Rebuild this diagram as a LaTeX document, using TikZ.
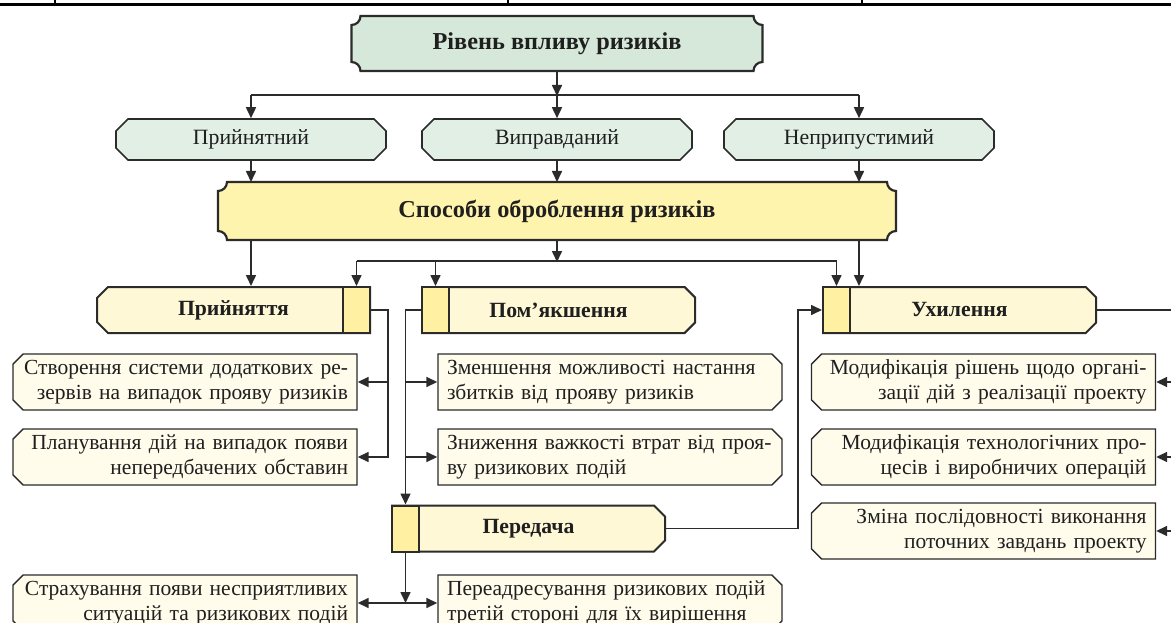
\documentclass[tikz,border=0pt]{standalone}
\usepackage{fontspec}
\setmainfont{Liberation Serif}
\usepackage{tikz}
\usetikzlibrary{positioning, shapes.misc, arrows.meta, backgrounds}

\definecolor{edge}{HTML}{2B2B2B}
\definecolor{ink}{HTML}{1F1F1F}
\definecolor{titlefill}{HTML}{D5E8D9}
\definecolor{lvfill}{HTML}{E1EFE5}
\definecolor{sposfill}{HTML}{FFF4AE}
\definecolor{methfill}{HTML}{FFF8D6}
\definecolor{sqfill}{HTML}{FFF0A2}
\definecolor{leaffill}{HTML}{FFFCEC}

\newcommand{\scrollframe}[2]{%
  \draw[draw=edge, line width=2.2pt, fill=#2]
    ([xshift=9pt]#1.north west) -- ([xshift=-9pt]#1.north east)
    arc[start angle=180, end angle=270, radius=9pt]
    -- ([yshift=9pt]#1.south east)
    arc[start angle=90, end angle=180, radius=9pt]
    -- ([xshift=9pt]#1.south west)
    arc[start angle=0, end angle=90, radius=9pt]
    -- ([yshift=-9pt]#1.north west)
    arc[start angle=270, end angle=360, radius=9pt] -- cycle;}

\begin{document}
\begin{tikzpicture}[x=1pt, y=1pt,
    line/.style={draw=edge, line width=1.6pt},
    arr/.style={line, -{Triangle[length=11pt, width=10pt]}},
    biarr/.style={line, {Triangle[length=11pt, width=10pt]}-{Triangle[length=11pt, width=10pt]}},
    scroll/.style={minimum height=55pt, inner sep=0pt, outer sep=0pt, text=ink, font=\bfseries\fontsize{24.3}{28}\selectfont},
    level/.style={chamfered rectangle, chamfered rectangle xsep=9pt, draw=edge, line width=1.6pt, fill=lvfill, minimum width=270pt, minimum height=41pt, inner sep=0pt, text=ink, font=\fontsize{21.8}{25}\selectfont},
    method/.style={chamfered rectangle, chamfered rectangle xsep=8pt, draw=edge, line width=2pt, fill=methfill, minimum width=273pt, minimum height=46pt, inner sep=0pt, text=ink, font=\bfseries\fontsize{21.7}{25}\selectfont},
    sq/.style={rectangle, draw=edge, line width=2pt, fill=sqfill, minimum width=27pt, minimum height=46pt, inner sep=0pt},
    leaf/.style={chamfered rectangle, chamfered rectangle xsep=7pt, draw=edge, line width=1.4pt, fill=leaffill, minimum width=344pt, minimum height=56pt, text width=326pt, inner xsep=2pt, inner ysep=0pt, text=ink, font=\fontsize{21.5}{25.5}\selectfont},
    cutleft/.style={leaf, chamfered rectangle corners={north west,south west}, align=right},
    cutright/.style={leaf, chamfered rectangle corners={north east,south east}, align=left}
  ]
    \useasboundingbox (0,0) rectangle (1171,-623);
    \clip (0,0) rectangle (1171,-623);

    \draw[line width=3pt, black] (0,-5) -- (1171,-5);
    \foreach \x in {55, 508, 862}
        \draw[line width=1.5pt, black] (\x,0) -- (\x,-5);

    \node[scroll, minimum width=411pt] (riven) at (557,-43.5) {Рівень впливу ризиків};
    \node[level] (pryjnatnyj) at (251,-139.5) {Прийнятний};
    \node[level] (vypravdanyj) at (557,-139.5) {Виправданий};
    \node[level] (nepryp) at (859,-139.5) {Неприпустимий};
    \node[scroll, minimum width=678pt, minimum height=58pt] (sposoby) at (557,-211) {Способи оброблення ризиків};

    \begin{scope}[on background layer]
        \scrollframe{riven}{titlefill}
        \scrollframe{sposoby}{sposfill}
    \end{scope}

    \node[method, chamfered rectangle corners={north west,south west}] (pryjnattja) at (233.5,-310) {Прийняття};
    \node[sq, anchor=east] (pryjnsq) at (pryjnattja.east) {};
    \node[method, chamfered rectangle corners={north east,south east}] (pomjak) at (558.5,-310) {Пом’якшення};
    \node[sq, anchor=west] (pomjaksq) at (pomjak.west) {};
    \node[method, chamfered rectangle corners={north east,south east}] (uxyl) at (959.5,-310) {Ухилення};
    \node[sq, anchor=west] (uxylsq) at (uxyl.west) {};
    \node[method, chamfered rectangle corners={north east,south east}] (peredacha) at (528.5,-528.5) {Передача};
    \node[sq, anchor=west] (peredsq) at (peredacha.west) {};

    \node[cutleft] (stvor) at (185,-382) {Створення системи додаткових ре-\\зервів на випадок прояву ризиків};
    \node[cutleft] (planuv) at (185,-457) {Планування дій на випадок появи\\непередбачених обставин};
    \node[cutleft] (strax) at (185,-603) {Страхування появи несприятливих\\ситуацій та ризикових подій};
    \node[cutright] (zmensh) at (610,-382) {Зменшення можливості настання\\збитків від прояву ризиків};
    \node[cutright] (znyzh) at (610,-457) {Зниження важкості втрат від проя-\\ву ризикових подій};
    \node[cutright] (pereadr) at (610,-603) {Переадресування ризикових подій\\третій стороні для їх вирішення};
    \node[cutleft] (modrish) at (983.5,-382) {Модифікація рішень щодо органі-\\зації дій з реалізації проекту};
    \node[cutleft] (modtech) at (983.5,-457) {Модифікація технологічних про-\\цесів і виробничих операцій};
    \node[cutleft] (zmina) at (983.5,-531) {Зміна послідовності виконання\\поточних завдань проекту};
    \coordinate (offright) at (1185,-531);

    \draw[arr] (riven.south) -- ++(0,-25);
    \draw[line] ([yshift=23pt]pryjnatnyj.north) -- ([yshift=23pt]nepryp.north);
    \foreach \n in {pryjnatnyj, vypravdanyj, nepryp} {
        \draw[arr] ([yshift=23pt]\n.north) -- (\n.north);
        \draw[arr] (\n.south) -- (\n.south |- sposoby.north);
    }

    \draw[arr] (sposoby.south -| pryjnatnyj.south) -- (pryjnattja.north -| pryjnatnyj.south);
    \draw[arr] (sposoby.south) -- ++(0,-22);
    \draw[line] ([yshift=25pt]pryjnsq.north) -- ([yshift=25pt]uxylsq.north);
    \foreach \n in {pryjnsq, pomjaksq, uxylsq}
        \draw[arr] ([yshift=25pt]\n.north) -- (\n.north);
    \draw[arr] (sposoby.south -| nepryp.south) -- (uxyl.north -| nepryp.south);

    \draw[arr] (pryjnsq.east) -- ++(17,0) |- (planuv.east);
    \draw[arr] (pryjnsq.east -| planuv.east) ++(30,0) |- (stvor.east);

    \draw[arr] (pomjaksq.west) -| (peredsq.north);
    \draw[arr] (zmensh.west -| peredsq.north) -- (zmensh.west);
    \draw[arr] (znyzh.west -| peredsq.north) -- (znyzh.west);

    \draw[arr] (peredsq.south) -- (peredsq.south |- strax.east);
    \draw[biarr] (strax.east) -- (pereadr.west);
    \draw[arr] (peredacha.east) -- ++(132,0) |- (uxylsq.west);

    \draw[line] (uxyl.east) -| (offright);
    \foreach \n in {modrish, modtech, zmina}
        \draw[arr] (offright |- \n.east) -- (\n.east);
\end{tikzpicture}
\end{document}
